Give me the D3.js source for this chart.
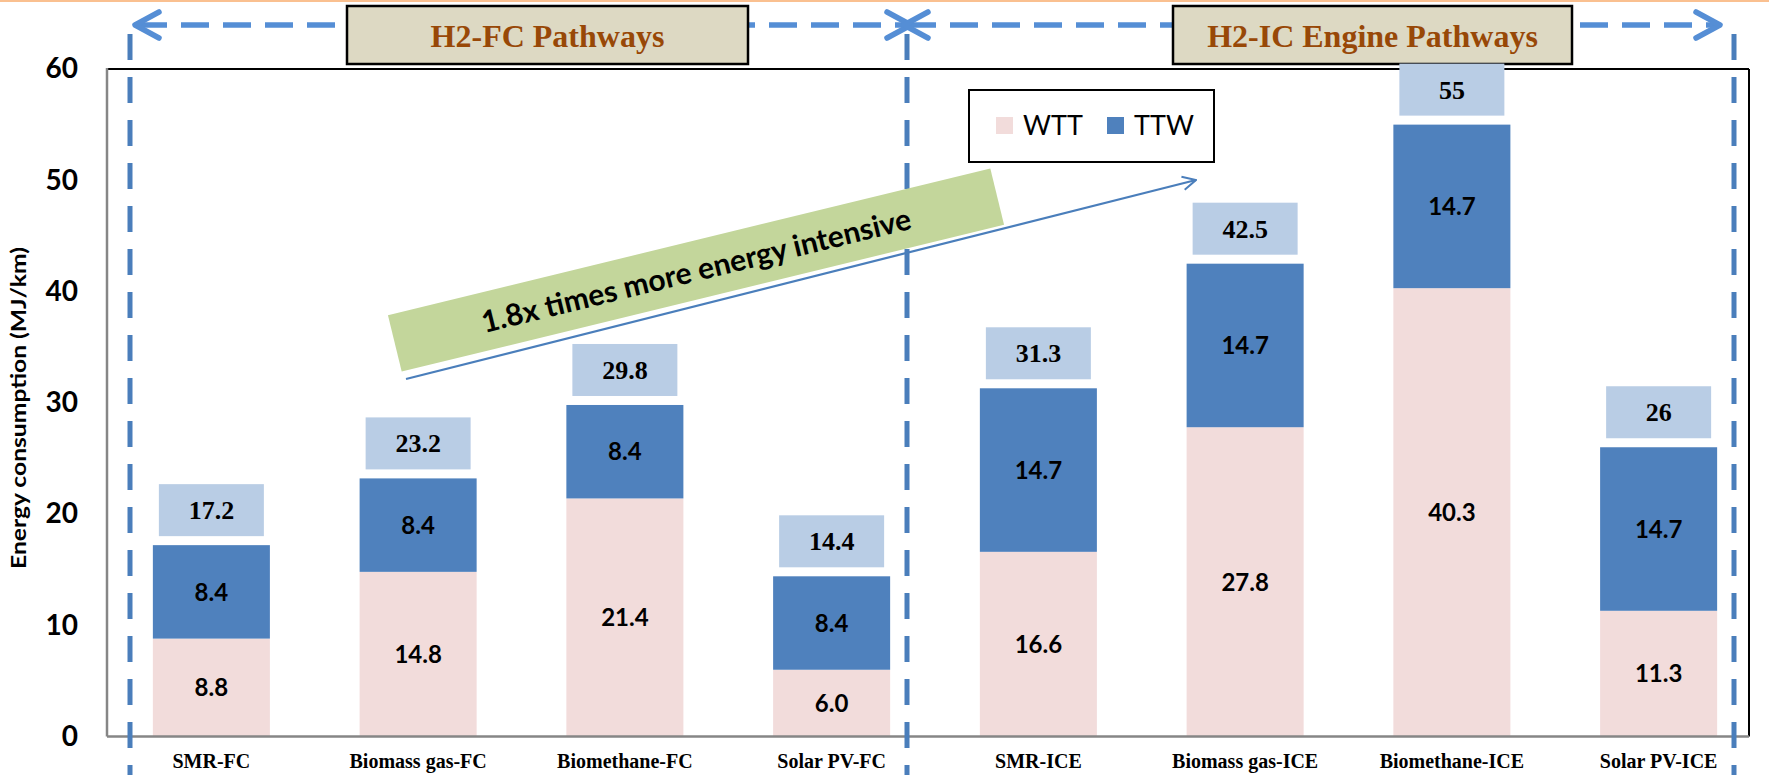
<!DOCTYPE html>
<html>
<head>
<meta charset="utf-8">
<script src="https://cdn.jsdelivr.net/npm/d3@7"></script>
<style>
  html, body { margin: 0; padding: 0; background: #fff; }
  svg { display: block; }
</style>
</head>
<body>
<script>
// ---- data ----
const categories = ["SMR-FC", "Biomass gas-FC", "Biomethane-FC", "Solar PV-FC",
                    "SMR-ICE", "Biomass gas-ICE", "Biomethane-ICE", "Solar PV-ICE"];
const wtt = [8.8, 14.8, 21.4, 6.0, 16.6, 27.8, 40.3, 11.3];
const ttw = [8.4, 8.4, 8.4, 8.4, 14.7, 14.7, 14.7, 14.7];
const seriesNames = ["WTT", "TTW"];
const yTicks = [0, 10, 20, 30, 40, 50, 60];
const groupTitles = ["H2-FC Pathways", "H2-IC Engine Pathways"];
const yTitle = "Energy consumption (MJ/km)";
const noteText = "1.8x times more energy intensive";

// ---- layout ----
const W = 1769, H = 775;
const plot = { left: 107, right: 1749, top: 69, bottom: 736.5 };
const colors = { WTT: "#f2dcdb", TTW: "#4f81bd" };
const sans = "Lato, 'Open Sans', sans-serif";
const serif = "'Liberation Serif', 'Times New Roman', serif";

const svg = d3.select("body").append("svg")
  .attr("width", W).attr("height", H)
  .attr("viewBox", `0 0 ${W} ${H}`);

// thin peach rule along the top edge
svg.append("rect").attr("x", 0).attr("y", 0).attr("width", W).attr("height", 2)
  .attr("fill", "#fac090");

const x = d3.scaleBand().domain(categories)
  .range([108, 1762]).paddingInner(0.434).paddingOuter(0.217);
const y = d3.scaleLinear().domain([0, 60]).range([plot.bottom, plot.top]);

const rows = categories.map((c, i) => ({ cat: c, WTT: wtt[i], TTW: ttw[i] }));
const stacked = d3.stack().keys(seriesNames)(rows);

// ---- frame ----
svg.append("line").attr("x1", plot.left).attr("x2", plot.right)
  .attr("y1", plot.top).attr("y2", plot.top).attr("stroke", "#000").attr("stroke-width", 2);
svg.append("line").attr("x1", plot.right).attr("x2", plot.right)
  .attr("y1", plot.top).attr("y2", plot.bottom).attr("stroke", "#000").attr("stroke-width", 2);

// ---- bars ----
const layers = svg.append("g").selectAll("g").data(stacked).join("g")
  .attr("fill", d => colors[d.key]);
layers.selectAll("rect").data(d => d).join("rect")
  .attr("x", d => x(d.data.cat))
  .attr("width", x.bandwidth())
  .attr("y", d => y(d[1]))
  .attr("height", d => y(d[0]) - y(d[1]));

// segment values
const fmt1 = d3.format(".1f");
const segLabels = svg.append("g")
  .attr("font-family", sans).attr("font-weight", 700).attr("font-size", 24)
  .attr("text-anchor", "middle").attr("fill", "#000");
stacked.forEach(layer => {
  segLabels.selectAll(null).data(layer).join("text")
    .attr("x", d => x(d.data.cat) + x.bandwidth() / 2)
    .attr("y", d => (y(d[0]) + y(d[1])) / 2)
    .attr("dy", "0.36em")
    .text(d => fmt1(d[1] - d[0]));
});

// axis lines (left + bottom, grey)
svg.append("line").attr("x1", plot.left).attr("x2", plot.left)
  .attr("y1", plot.top - 1).attr("y2", plot.bottom).attr("stroke", "#868686").attr("stroke-width", 2.5);
svg.append("line").attr("x1", plot.left).attr("x2", plot.right)
  .attr("y1", plot.bottom).attr("y2", plot.bottom).attr("stroke", "#868686").attr("stroke-width", 2.5);

// ---- y axis ----
const yAxis = d3.axisLeft(y).tickValues(yTicks).tickSize(0).tickPadding(0);
const yg = svg.append("g").attr("transform", "translate(78,0)").call(yAxis);
yg.select(".domain").remove();
yg.selectAll("text")
  .attr("font-family", sans).attr("font-weight", 700).attr("font-size", 28)
  .attr("fill", "#000");

svg.append("text")
  .attr("transform", `translate(26,${(246 + 570) / 2}) rotate(-90)`)
  .attr("text-anchor", "middle")
  .attr("font-family", sans).attr("font-weight", 700).attr("font-size", 21)
  .attr("textLength", 322).attr("lengthAdjust", "spacingAndGlyphs")
  .text(yTitle);

// ---- x axis labels ----
const xAxis = d3.axisBottom(x).tickSize(0).tickPadding(0);
const xg = svg.append("g").attr("transform", `translate(0,${plot.bottom})`).call(xAxis);
xg.select(".domain").remove();
xg.selectAll("text")
  .attr("y", 31.5).attr("dy", 0)
  .attr("font-family", serif).attr("font-weight", 700).attr("font-size", 20)
  .attr("fill", "#000");

// ---- dashed group dividers ----
const vColor = "#4a7ebb", hColor = "#558ed5";
[130, 907, 1734].forEach(vx => {
  svg.append("line").attr("x1", vx).attr("x2", vx).attr("y1", 34).attr("y2", H)
    .attr("stroke", vColor).attr("stroke-width", 5).attr("stroke-dasharray", "26 17");
});

// double-headed dashed span arrows
const arrowY = 25;
function spanArrow(x0, x1) {
  svg.append("line").attr("x1", x0 + 4).attr("x2", x1 - 4).attr("y1", arrowY).attr("y2", arrowY)
    .attr("stroke", hColor).attr("stroke-width", 5.5).attr("stroke-dasharray", "28 14");
  const head = (tx, dir) => svg.append("path")
    .attr("d", `M${tx - dir * 24},${arrowY - 13} L${tx},${arrowY} L${tx - dir * 24},${arrowY + 13}`)
    .attr("fill", "none").attr("stroke", hColor).attr("stroke-width", 5.5)
    .attr("stroke-linecap", "round").attr("stroke-linejoin", "round");
  head(x0, -1);
  head(x1, 1);
}
spanArrow(135, 911);
spanArrow(904, 1720);

// group title boxes
const titleBoxes = [
  { x0: 347, x1: 748, text: groupTitles[0] },
  { x0: 1173, x1: 1572, text: groupTitles[1] }
];
titleBoxes.forEach(b => {
  svg.append("rect").attr("x", b.x0).attr("y", 6).attr("width", b.x1 - b.x0).attr("height", 58)
    .attr("fill", "#ddd9c3").attr("stroke", "#000").attr("stroke-width", 2.5);
  svg.append("text").attr("x", (b.x0 + b.x1) / 2).attr("y", 47)
    .attr("text-anchor", "middle")
    .attr("font-family", serif).attr("font-weight", 700).attr("font-size", 32)
    .attr("fill", "#984807").text(b.text);
});

// ---- total boxes ----
const fmtTot = d3.format(".3~r");
const totals = rows.map(r => r.WTT + r.TTW);
const boxW = 105, boxH = 52, boxGap = 9;
const tg = svg.append("g");
tg.selectAll("rect").data(rows).join("rect")
  .attr("x", (d) => x(d.cat) + x.bandwidth() / 2 - boxW / 2)
  .attr("y", (d, i) => y(totals[i]) - boxGap - boxH)
  .attr("width", boxW).attr("height", boxH)
  .attr("fill", "#b9cde5");
tg.selectAll("text").data(rows).join("text")
  .attr("x", d => x(d.cat) + x.bandwidth() / 2)
  .attr("y", (d, i) => y(totals[i]) - boxGap - boxH / 2 + 9)
  .attr("text-anchor", "middle")
  .attr("font-family", serif).attr("font-weight", 700).attr("font-size", 26)
  .text((d, i) => fmtTot(totals[i]));

// ---- legend ----
const lg = svg.append("g");
lg.append("rect").attr("x", 969).attr("y", 90).attr("width", 245).attr("height", 72)
  .attr("fill", "#fff").attr("stroke", "#000").attr("stroke-width", 2);
const legendX = [996, 1107];
seriesNames.forEach((s, i) => {
  lg.append("rect").attr("x", legendX[i]).attr("y", 117).attr("width", 17).attr("height", 17)
    .attr("fill", colors[s]);
  lg.append("text").attr("x", legendX[i] + 27).attr("y", 135)
    .attr("font-family", sans).attr("font-size", 27).attr("fill", "#000").text(s);
});

// ---- annotation banner and arrow ----
const banner = svg.append("g").attr("transform", "translate(696,270) rotate(-13.7)");
banner.append("rect").attr("x", -310).attr("y", -29).attr("width", 620).attr("height", 58)
  .attr("fill", "#c3d69b");
banner.append("text").attr("x", 0).attr("y", 11)
  .attr("text-anchor", "middle")
  .attr("font-family", sans).attr("font-weight", 700).attr("font-size", 30)
  .attr("fill", "#000").text(noteText);

svg.append("defs").append("marker")
  .attr("id", "openHead").attr("viewBox", "0 0 12 12")
  .attr("refX", 11).attr("refY", 6)
  .attr("markerWidth", 16).attr("markerHeight", 16)
  .attr("markerUnits", "userSpaceOnUse").attr("orient", "auto")
  .append("path").attr("d", "M1,1 L11,6 L1,11")
  .attr("fill", "none").attr("stroke", "#4a7ebb").attr("stroke-width", 1.5);
svg.append("line").attr("x1", 406).attr("y1", 379).attr("x2", 1196).attr("y2", 180)
  .attr("stroke", "#4a7ebb").attr("stroke-width", 2.2)
  .attr("marker-end", "url(#openHead)");
</script>
</body>
</html>
